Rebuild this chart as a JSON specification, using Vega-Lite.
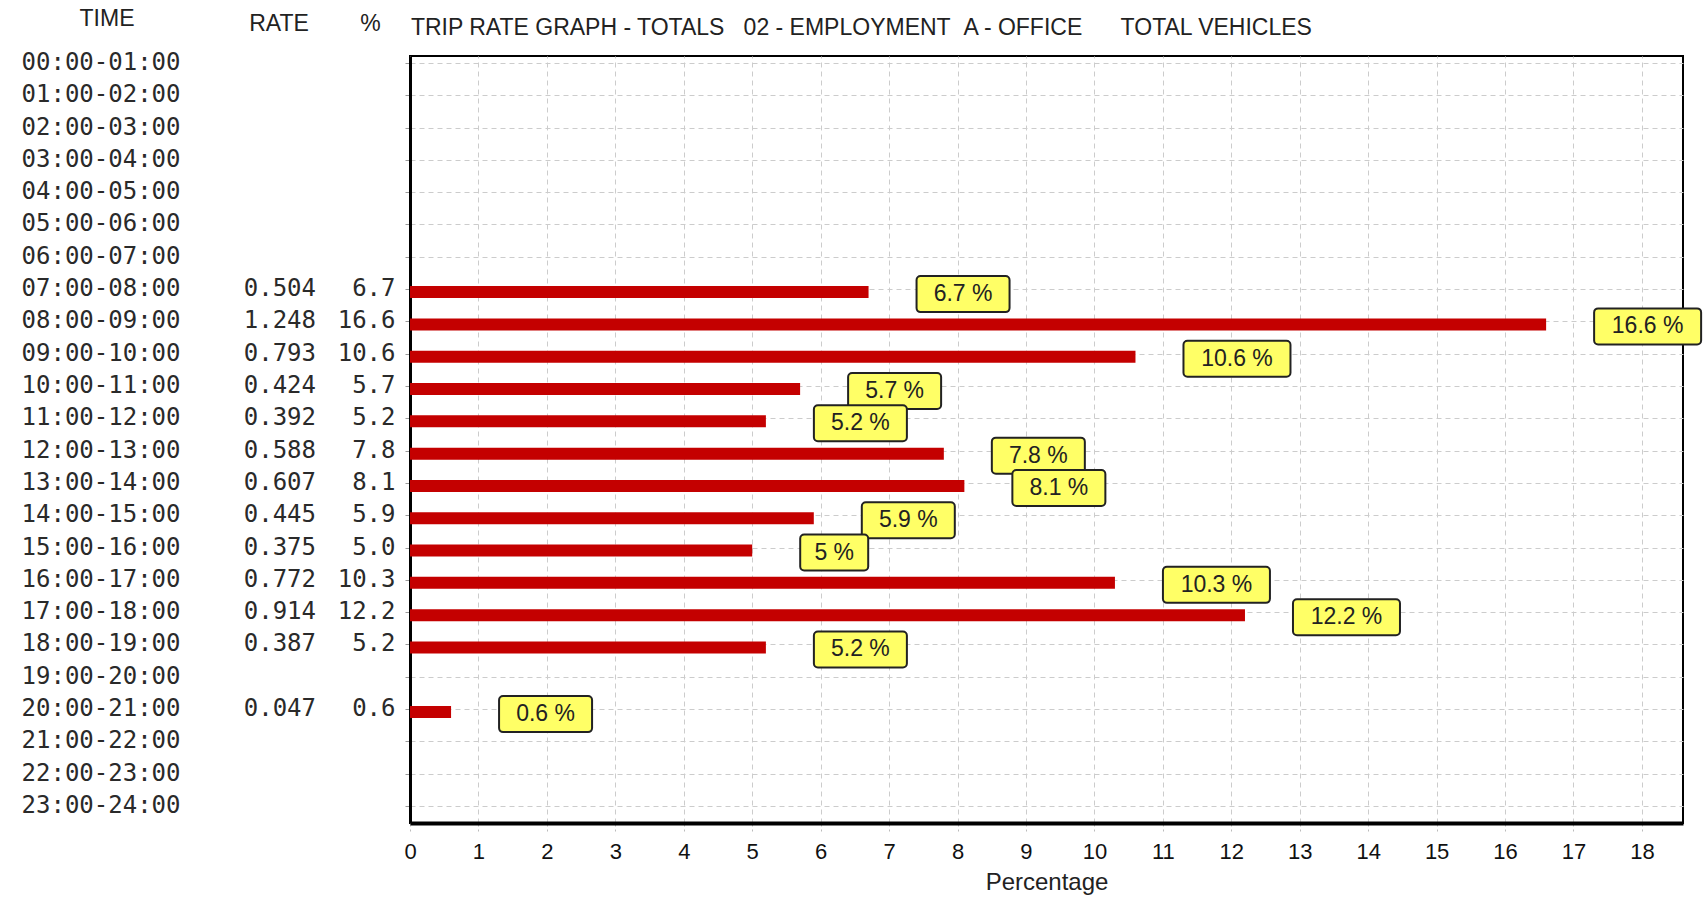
{
  "$schema": "https://vega.github.io/schema/vega-lite/v6.json",
  "background": "white",
  "padding": {"left": 0, "top": 7, "right": 0, "bottom": 0},
  "autosize": {"type": "pad"},
  "bounds": "flush",
  "spacing": 0,
  "config": {
    "view": {"stroke": "transparent"},
    "title": {"font": "Liberation Sans", "fontSize": 23, "fontWeight": "normal", "color": "#222", "offset": 20},
    "text": {"color": "#2a2a2a"}
  },
  "datasets": {
    "rows": [
      {"time": "00:00-01:00"},
      {"time": "01:00-02:00"},
      {"time": "02:00-03:00"},
      {"time": "03:00-04:00"},
      {"time": "04:00-05:00"},
      {"time": "05:00-06:00"},
      {"time": "06:00-07:00"},
      {"time": "07:00-08:00", "rate": 0.504, "pct": 6.7, "label": "6.7 %"},
      {"time": "08:00-09:00", "rate": 1.248, "pct": 16.6, "label": "16.6 %"},
      {"time": "09:00-10:00", "rate": 0.793, "pct": 10.6, "label": "10.6 %"},
      {"time": "10:00-11:00", "rate": 0.424, "pct": 5.7, "label": "5.7 %"},
      {"time": "11:00-12:00", "rate": 0.392, "pct": 5.2, "label": "5.2 %"},
      {"time": "12:00-13:00", "rate": 0.588, "pct": 7.8, "label": "7.8 %"},
      {"time": "13:00-14:00", "rate": 0.607, "pct": 8.1, "label": "8.1 %"},
      {"time": "14:00-15:00", "rate": 0.445, "pct": 5.9, "label": "5.9 %"},
      {"time": "15:00-16:00", "rate": 0.375, "pct": 5.0, "label": "5 %"},
      {"time": "16:00-17:00", "rate": 0.772, "pct": 10.3, "label": "10.3 %"},
      {"time": "17:00-18:00", "rate": 0.914, "pct": 12.2, "label": "12.2 %"},
      {"time": "18:00-19:00", "rate": 0.387, "pct": 5.2, "label": "5.2 %"},
      {"time": "19:00-20:00"},
      {"time": "20:00-21:00", "rate": 0.047, "pct": 0.6, "label": "0.6 %"},
      {"time": "21:00-22:00"},
      {"time": "22:00-23:00"},
      {"time": "23:00-24:00"}
    ]
  },
  "hconcat": [
    {
      "width": 200,
      "height": 767,
      "title": {"text": "TIME", "anchor": "middle", "dx": 6},
      "data": {"name": "rows"},
      "mark": {"type": "text", "font": "DejaVu Sans Mono", "fontSize": 24, "align": "center", "baseline": "middle"},
      "encoding": {
        "y": {"field": "time", "type": "ordinal", "axis": null,
              "scale": {"type": "point", "padding": 0.37, "align": 0.29, "domain": ["00:00-01:00","01:00-02:00","02:00-03:00","03:00-04:00","04:00-05:00","05:00-06:00","06:00-07:00","07:00-08:00","08:00-09:00","09:00-10:00","10:00-11:00","11:00-12:00","12:00-13:00","13:00-14:00","14:00-15:00","15:00-16:00","16:00-17:00","17:00-18:00","18:00-19:00","19:00-20:00","20:00-21:00","21:00-22:00","22:00-23:00","23:00-24:00"]}},
        "text": {"field": "time", "type": "nominal"}
      }
    },
    {
      "width": 130,
      "height": 767,
      "title": {"text": "RATE", "anchor": "middle", "dx": 13},
      "data": {"name": "rows"},
      "transform": [{"filter": "isValid(datum.rate)"}],
      "mark": {"type": "text", "font": "DejaVu Sans Mono", "fontSize": 24, "align": "right", "baseline": "middle", "dx": 50},
      "encoding": {
        "y": {"field": "time", "type": "ordinal", "axis": null,
              "scale": {"type": "point", "padding": 0.37, "align": 0.29, "domain": ["00:00-01:00","01:00-02:00","02:00-03:00","03:00-04:00","04:00-05:00","05:00-06:00","06:00-07:00","07:00-08:00","08:00-09:00","09:00-10:00","10:00-11:00","11:00-12:00","12:00-13:00","13:00-14:00","14:00-15:00","15:00-16:00","16:00-17:00","17:00-18:00","18:00-19:00","19:00-20:00","20:00-21:00","21:00-22:00","22:00-23:00","23:00-24:00"]}},
        "text": {"field": "rate", "type": "quantitative", "format": ".3f"}
      }
    },
    {
      "width": 79,
      "height": 767,
      "title": {"text": "%", "anchor": "middle"},
      "data": {"name": "rows"},
      "transform": [{"filter": "isValid(datum.pct)"}],
      "mark": {"type": "text", "font": "DejaVu Sans Mono", "fontSize": 24, "align": "right", "baseline": "middle", "dx": 25},
      "encoding": {
        "y": {"field": "time", "type": "ordinal", "axis": null,
              "scale": {"type": "point", "padding": 0.37, "align": 0.29, "domain": ["00:00-01:00","01:00-02:00","02:00-03:00","03:00-04:00","04:00-05:00","05:00-06:00","06:00-07:00","07:00-08:00","08:00-09:00","09:00-10:00","10:00-11:00","11:00-12:00","12:00-13:00","13:00-14:00","14:00-15:00","15:00-16:00","16:00-17:00","17:00-18:00","18:00-19:00","19:00-20:00","20:00-21:00","21:00-22:00","22:00-23:00","23:00-24:00"]}},
        "text": {"field": "pct", "type": "quantitative", "format": ".1f"}
      }
    },
    {
      "width": 1273,
      "height": 767,
      "view": {"stroke": "#000", "strokeWidth": 2},
      "title": {"text": "TRIP RATE GRAPH - TOTALS\u00a0\u00a0\u00a002 - EMPLOYMENT\u00a0\u00a0A - OFFICE\u00a0\u00a0\u00a0\u00a0\u00a0\u00a0TOTAL VEHICLES", "anchor": "start", "dx": 7, "dy": 4},
      "data": {"name": "rows"},
      "transform": [{"filter": "isValid(datum.pct)"}],
      "layer": [
        {
          "mark": {"type": "bar", "size": 12, "color": "#c40000", "yOffset": 3},
          "encoding": {
            "x": {"field": "pct", "type": "quantitative",
                  "scale": {"domain": [0, 18.6], "nice": false, "zero": true},
                  "axis": {"title": "Percentage", "values": [0,1,2,3,4,5,6,7,8,9,10,11,12,13,14,15,16,17,18], "format": "d",
                           "labelFont": "Liberation Sans", "labelFontSize": 22, "labelColor": "#111", "labelPadding": 10,
                           "labelFlush": false, "labelOverlap": false,
                           "tickSize": 8, "tickColor": "#bbbbbb", "tickDash": [3, 3],
                           "domainColor": "#000", "domainWidth": 4,
                           "grid": true, "gridColor": "#cccccc", "gridDash": [5, 4],
                           "titleFont": "Liberation Sans", "titleFontSize": 24, "titleFontWeight": "normal", "titleColor": "#222", "titlePadding": 8}},
            "y": {"field": "time", "type": "ordinal",
                  "scale": {"type": "point", "padding": 0.37, "align": 0.29, "domain": ["00:00-01:00","01:00-02:00","02:00-03:00","03:00-04:00","04:00-05:00","05:00-06:00","06:00-07:00","07:00-08:00","08:00-09:00","09:00-10:00","10:00-11:00","11:00-12:00","12:00-13:00","13:00-14:00","14:00-15:00","15:00-16:00","16:00-17:00","17:00-18:00","18:00-19:00","19:00-20:00","20:00-21:00","21:00-22:00","22:00-23:00","23:00-24:00"]},
                  "axis": {"labels": false, "title": null, "domainColor": "#000", "domainWidth": 3,
                           "tickColor": "#999", "tickSize": 5,
                           "grid": true, "gridColor": "#cccccc", "gridDash": [5, 4]}}
          }
        },
        {
          "transform": [{"filter": "length(datum.label) == 5"}],
          "layer": [
            {"mark": {"type": "bar", "size": 36, "xOffset": 48, "x2Offset": 141, "yOffset": 5, "fill": "#ffff66", "stroke": "#222", "strokeWidth": 2, "cornerRadius": 4},
             "encoding": {"x": {"field": "pct", "type": "quantitative"}, "x2": {"field": "pct"}, "y": {"field": "time", "type": "ordinal"}}},
            {"mark": {"type": "text", "dx": 94.5, "dy": 5, "align": "center", "baseline": "middle", "font": "Liberation Sans", "fontSize": 23, "color": "#222"},
             "encoding": {"x": {"field": "pct", "type": "quantitative"}, "y": {"field": "time", "type": "ordinal"}, "text": {"field": "label", "type": "nominal"}}}
          ]
        },
        {
          "transform": [{"filter": "length(datum.label) == 6"}],
          "layer": [
            {"mark": {"type": "bar", "size": 36, "xOffset": 48, "x2Offset": 155, "yOffset": 5, "fill": "#ffff66", "stroke": "#222", "strokeWidth": 2, "cornerRadius": 4},
             "encoding": {"x": {"field": "pct", "type": "quantitative"}, "x2": {"field": "pct"}, "y": {"field": "time", "type": "ordinal"}}},
            {"mark": {"type": "text", "dx": 101.5, "dy": 5, "align": "center", "baseline": "middle", "font": "Liberation Sans", "fontSize": 23, "color": "#222"},
             "encoding": {"x": {"field": "pct", "type": "quantitative"}, "y": {"field": "time", "type": "ordinal"}, "text": {"field": "label", "type": "nominal"}}}
          ]
        },
        {
          "transform": [{"filter": "length(datum.label) == 3"}],
          "layer": [
            {"mark": {"type": "bar", "size": 36, "xOffset": 48, "x2Offset": 116, "yOffset": 5, "fill": "#ffff66", "stroke": "#222", "strokeWidth": 2, "cornerRadius": 4},
             "encoding": {"x": {"field": "pct", "type": "quantitative"}, "x2": {"field": "pct"}, "y": {"field": "time", "type": "ordinal"}}},
            {"mark": {"type": "text", "dx": 82, "dy": 5, "align": "center", "baseline": "middle", "font": "Liberation Sans", "fontSize": 23, "color": "#222"},
             "encoding": {"x": {"field": "pct", "type": "quantitative"}, "y": {"field": "time", "type": "ordinal"}, "text": {"field": "label", "type": "nominal"}}}
          ]
        }
      ]
    }
  ]
}
